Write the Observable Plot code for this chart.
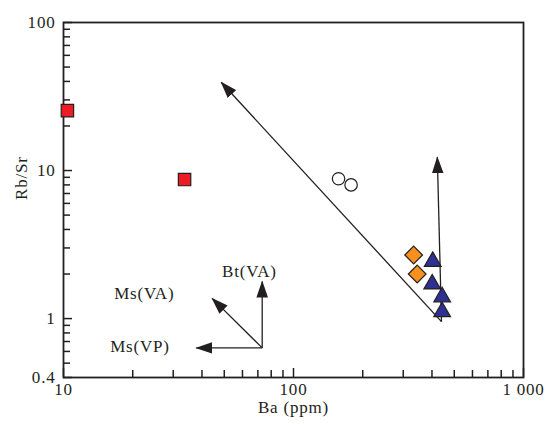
<!DOCTYPE html>
<html><head><meta charset="utf-8">
<script src="https://cdn.jsdelivr.net/npm/d3@7"></script>
<script src="https://cdn.jsdelivr.net/npm/@observablehq/plot@0.6"></script>
<style>body{margin:0;background:#fff}</style>
</head><body><div id="chart"></div>
<script>
// Data (Ba in ppm, Rb/Sr ratio)
const squareBa = [10.4, 33.6];
const squareRbSr = [25.4, 8.69];
const circleBa = [157, 178];
const circleRbSr = [8.8, 8.0];
const diamondBa = [333, 345];
const diamondRbSr = [2.69, 2.00];
const triangleBa = [403, 401, 443, 443];
const triangleRbSr = [2.43, 1.71, 1.40, 1.11];

// Vectors (trend arrows)
const arrowFromBa = [440, 440, 73.1, 73.1, 73.1];
const arrowFromRbSr = [0.954, 0.954, 0.634, 0.634, 0.634];
const arrowToBa = [48.5, 422, 73.1, 44.3, 37.8];
const arrowToRbSr = [39.5, 12.3, 1.78, 1.37, 0.634];

// Vector labels
const vecLabels = ["Bt(VA)", "Ms(VA)", "Ms(VP)"];
const vecLabelBa = [64.3, 22.45, 21.5];
const vecLabelRbSr = [2.07, 1.478, 0.644];

// Ticks
const xMajor = [10, 100, 1000];
const xMinor = [20, 30, 40, 50, 60, 70, 80, 90, 200, 300, 400, 500, 600, 700, 800, 900];
const yMajor = [0.4, 1, 10, 100];
const yMinor = [0.5, 0.6, 0.7, 0.8, 0.9, 2, 3, 4, 5, 6, 7, 8, 9, 20, 30, 40, 50, 60, 70, 80, 90];
const xTickText = {10: "10", 100: "100", 1000: "1 000"};
const yTickText = {0.4: "0.4", 1: "1", 10: "10", 100: "100"};

const ink = "#231F20";

function headMarker(color) {
  return d3.create("svg:marker")
    .attr("viewBox", "0 -6 17 12")
    .attr("refX", 16)
    .attr("refY", 0)
    .attr("markerWidth", 17)
    .attr("markerHeight", 12)
    .attr("markerUnits", "userSpaceOnUse")
    .attr("orient", "auto")
    .call(m => m.append("path").attr("d", "M0,-5.8L17,0L0,5.8Z").attr("fill", color).attr("stroke", "none"))
    .node();
}

const chart = Plot.plot({
  width: 547,
  height: 424,
  marginLeft: 63,
  marginRight: 24,
  marginTop: 22,
  marginBottom: 47,
  style: {fontFamily: "'Liberation Serif', serif", fontSize: "17px", background: "white", color: ink, letterSpacing: "0.8px"},
  x: {type: "log", domain: [10, 1000]},
  y: {type: "log", domain: [0.4, 100]},
  marks: [
    Plot.axisX(xMinor, {tickSize: -7, tickFormat: () => "", strokeWidth: 1.5, label: null}),
    Plot.axisX(xMajor, {tickSize: -9, tickPadding: 14, strokeWidth: 1.5, tickFormat: d => xTickText[d], label: null}),
    Plot.axisY(yMinor, {tickSize: -7, tickFormat: () => "", strokeWidth: 1.5, label: null}),
    Plot.axisY(yMajor, {tickSize: -9, tickPadding: 17, strokeWidth: 1.5, tickFormat: d => yTickText[d], label: null}),
    Plot.frame({stroke: ink, strokeWidth: 1.8}),
    Plot.text(["Ba (ppm)"], {frameAnchor: "bottom", dy: 35, fill: ink}),
    Plot.text(["Rb/Sr"], {frameAnchor: "left", dx: -42, rotate: -90, fill: ink}),
    Plot.link(arrowFromBa, {
      x1: d => d, y1: (d, i) => arrowFromRbSr[i],
      x2: (d, i) => arrowToBa[i], y2: (d, i) => arrowToRbSr[i],
      stroke: ink, strokeWidth: 1.3, markerEnd: headMarker
    }),
    Plot.text(vecLabels, {x: (d, i) => vecLabelBa[i], y: (d, i) => vecLabelRbSr[i], text: d => d, fill: ink}),
    Plot.dot(squareBa, {x: d => d, y: (d, i) => squareRbSr[i], symbol: "square", r: 7, fill: "#ED1C24", stroke: ink, strokeWidth: 1.2}),
    Plot.dot(circleBa, {x: d => d, y: (d, i) => circleRbSr[i], symbol: "circle", r: 6.2, fill: "white", stroke: ink, strokeWidth: 1.2}),
    Plot.dot(diamondBa, {x: d => d, y: (d, i) => diamondRbSr[i], symbol: "diamond2", r: 8, fill: "#F7901E", stroke: ink, strokeWidth: 1.2}),
    Plot.dot(triangleBa, {x: d => d, y: (d, i) => triangleRbSr[i], symbol: "triangle", r: 6.2, fill: "#2E3192", stroke: ink, strokeWidth: 1.2})
  ]
});
document.getElementById("chart").appendChild(chart);
</script>
</body></html>
